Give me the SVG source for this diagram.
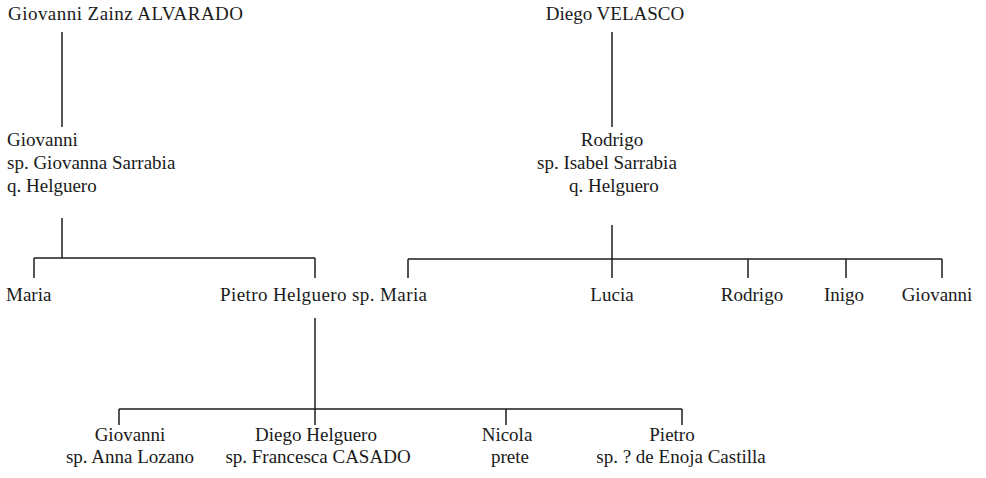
<svg xmlns="http://www.w3.org/2000/svg" width="986" height="478" viewBox="0 0 986 478">
<style>
text{font-family:"Liberation Serif","Times New Roman",serif;font-size:19px;fill:#1a1a1a}
.c{text-anchor:middle}
.ln{stroke:#1e1e1e;stroke-width:1.5;fill:none}
</style>
<rect width="986" height="478" fill="#ffffff"/>
<g id="connectors" class="ln">
<path d="M62 32V127"/>
<path d="M612 32V127"/>
<path d="M62 218V258"/>
<path d="M34 258H315M34 258V278M315 258V278"/>
<path d="M612 225V278"/>
<path d="M408 259H942M408 259V278M748 259V278M846 259V278M942 259V278"/>
<path d="M315 318V425"/>
<path d="M119 409H682M119 409V425M506 409V425M682 409V425"/>
</g>
<g id="n-giovanni-zainz"><text x="8" y="20" textLength="235" lengthAdjust="spacing">Giovanni Zainz ALVARADO</text></g>
<g id="n-diego-velasco"><text x="615" y="20" class="c">Diego VELASCO</text></g>
<g id="n-giovanni-sp"><text x="7" y="146">Giovanni</text><text x="7" y="169">sp. Giovanna Sarrabia</text><text x="7" y="192">q. Helguero</text></g>
<g id="n-rodrigo-sp"><text x="612" y="146" class="c">Rodrigo</text><text x="537" y="169">sp. Isabel Sarrabia</text><text x="569" y="192">q. Helguero</text></g>
<g id="n-maria1"><text x="6" y="301">Maria</text></g>
<g id="n-pietro-helguero"><text x="220" y="301" textLength="207" lengthAdjust="spacing">Pietro Helguero sp. Maria</text></g>
<g id="n-lucia"><text x="612" y="301" class="c">Lucia</text></g>
<g id="n-rodrigo2"><text x="752" y="301" class="c">Rodrigo</text></g>
<g id="n-inigo"><text x="844" y="301" class="c">Inigo</text></g>
<g id="n-giovanni3"><text x="937" y="301" class="c">Giovanni</text></g>
<g id="n-giovanni4"><text x="130" y="441" class="c">Giovanni</text><text x="130" y="463" class="c">sp. Anna Lozano</text></g>
<g id="n-diego-helguero"><text x="316" y="441" class="c">Diego Helguero</text><text x="318" y="463" class="c">sp. Francesca CASADO</text></g>
<g id="n-nicola"><text x="507" y="441" class="c">Nicola</text><text x="510" y="463" class="c">prete</text></g>
<g id="n-pietro"><text x="672" y="441" class="c">Pietro</text><text x="681" y="463" class="c">sp. ? de Enoja Castilla</text></g>
</svg>
